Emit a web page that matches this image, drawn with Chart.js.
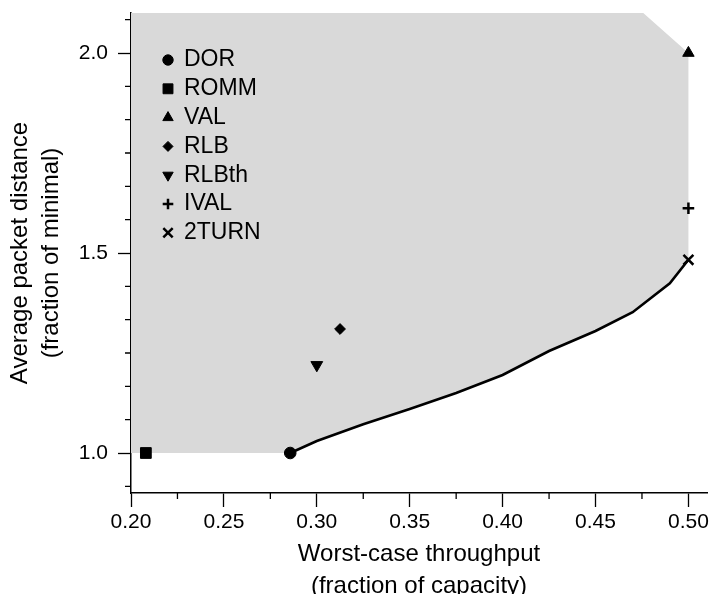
<!DOCTYPE html>
<html lang="en">
<head>
  <meta charset="UTF-8">
  <title>Worst-case throughput vs average packet distance</title>
  <script src="https://cdn.jsdelivr.net/npm/chart.js"></script>
  <style>
    body {
      margin: 0;
      background-color: #fff;
      overflow: hidden;
    }
  </style>
</head>
<body>

  <canvas id="grafico" width="709" height="594"></canvas>

  <script>
    // algorithms (single points)
    const seriesNames = ['DOR', 'ROMM', 'VAL', 'RLB', 'RLBth', 'IVAL', '2TURN'];
    const seriesX = [0.2857, 0.208, 0.5, 0.3125, 0.30, 0.5, 0.5];
    const seriesY = [1.0, 1.0, 2.0, 1.31, 1.22, 1.612, 1.483];

    // lower bound curve
    const curveX = [0.2857, 0.30, 0.325, 0.35, 0.375, 0.40, 0.425, 0.45, 0.47, 0.49, 0.50];
    const curveY = [1.0, 1.03, 1.072, 1.11, 1.15, 1.195, 1.255, 1.305, 1.352, 1.424, 1.483];

    // shaded region, corners outside the curve
    const regionX = [0.20, 0.50, 0.4757, 0.20];
    const regionY = [1.0, 2.0, 2.1, 2.1];

    const xMajor = [0.20, 0.25, 0.30, 0.35, 0.40, 0.45, 0.50];
    const xMinor = [0.225, 0.275, 0.325, 0.375, 0.425, 0.475];
    const yMajor = [1.0, 1.5, 2.0];
    const yMinor = [0.9167, 1.0833, 1.1667, 1.25, 1.3333, 1.4167, 1.5833, 1.6667, 1.75, 1.8333, 1.9167, 2.0833];

    const FONT = "'Liberation Sans', Arial, Helvetica, sans-serif";

    const markers = [
      { pointStyle: 'circle', radius: 5.8, rotation: 0, borderWidth: 1, legendRadius: 5.2 },
      { pointStyle: 'rect', radius: 7.6, rotation: 0, borderWidth: 1, legendRadius: 7.0 },
      { pointStyle: 'triangle', radius: 6.6, rotation: 0, borderWidth: 1, legendRadius: 6.0 },
      { pointStyle: 'rectRot', radius: 5.4, rotation: 0, borderWidth: 1, legendRadius: 5.0 },
      { pointStyle: 'triangle', radius: 6.8, rotation: 180, borderWidth: 1, legendRadius: 6.0 },
      { pointStyle: 'cross', radius: 5.8, rotation: 0, borderWidth: 2.5, legendRadius: 5.3 },
      { pointStyle: 'crossRot', radius: 7.0, rotation: 0, borderWidth: 2.5, legendRadius: 6.6 }
    ];

    const regionPoints = [{ x: regionX[0], y: regionY[0] }]
      .concat(curveX.map((x, i) => ({ x: x, y: curveY[i] })))
      .concat(regionX.slice(1).map((x, i) => ({ x: x, y: regionY[i + 1] })));

    const datasets = [
      {
        label: 'region',
        data: regionPoints,
        backgroundColor: '#d9d9d9',
        borderColor: 'rgba(0,0,0,0)',
        borderWidth: 0,
        fill: 'shape',
        pointRadius: 0,
        tension: 0,
        order: 10
      },
      {
        label: 'bound',
        data: curveX.map((x, i) => ({ x: x, y: curveY[i] })),
        borderColor: '#000',
        borderWidth: 2.6,
        fill: false,
        pointRadius: 0,
        tension: 0,
        order: 5
      }
    ];

    seriesNames.forEach((name, i) => {
      const m = markers[i];
      datasets.push({
        label: name,
        data: [{ x: seriesX[i], y: seriesY[i] }],
        showLine: false,
        pointStyle: m.pointStyle,
        pointRadius: m.radius,
        pointRotation: m.rotation,
        pointBorderWidth: m.borderWidth,
        pointBackgroundColor: '#000',
        pointBorderColor: '#000',
        isMarker: true,
        order: 1
      });
    });

    // minor ticks are shorter than the major ones
    const minorTicks = {
      id: 'minorTicks',
      afterDraw(chart) {
        const { ctx, scales: { x, y } } = chart;
        ctx.save();
        ctx.strokeStyle = '#000';
        ctx.lineWidth = 1.3;
        ctx.beginPath();
        xMinor.forEach(v => {
          const px = x.getPixelForValue(v);
          ctx.moveTo(px, x.top);
          ctx.lineTo(px, x.top + 6);
        });
        yMinor.forEach(v => {
          const py = y.getPixelForValue(v);
          ctx.moveTo(y.right, py);
          ctx.lineTo(y.right - 6, py);
        });
        ctx.stroke();
        ctx.restore();
      }
    };

    // legend drawn inside the plot, top left
    const innerLegend = {
      id: 'innerLegend',
      afterDatasetsDraw(chart) {
        const ctx = chart.ctx;
        const x0 = 168, y0 = 60, step = 28.8;
        ctx.save();
        ctx.font = '23px ' + FONT;
        ctx.textBaseline = 'middle';
        ctx.textAlign = 'left';
        let row = 0;
        chart.data.datasets.forEach((ds, i) => {
          if (!ds.isMarker) return;
          const m = markers[i - 2];
          const yy = y0 + row * step;
          ctx.fillStyle = '#000';
          ctx.strokeStyle = '#000';
          ctx.lineWidth = m.borderWidth;
          Chart.helpers.drawPoint(ctx, {
            pointStyle: m.pointStyle,
            rotation: m.rotation,
            radius: m.legendRadius,
            borderWidth: m.borderWidth
          }, x0, yy);
          ctx.fillStyle = '#000';
          ctx.fillText(ds.label, x0 + 16, yy);
          row++;
        });
        ctx.restore();
      }
    };

    new Chart(document.getElementById('grafico').getContext('2d'), {
      type: 'line',
      data: { datasets: datasets },
      plugins: [minorTicks, innerLegend],
      options: {
        responsive: false,
        animation: false,
        devicePixelRatio: 1,
        layout: { autoPadding: false, padding: { top: 13, right: 2, left: 0, bottom: 0 } },
        plugins: {
          legend: { display: false },
          tooltip: { enabled: false }
        },
        scales: {
          x: {
            type: 'linear',
            min: 0.2,
            max: 0.51,
            afterBuildTicks: s => { s.ticks = xMajor.map(v => ({ value: v })); },
            afterFit: s => { s.height = 101; s.paddingLeft = 0; s.paddingRight = 0; },
            ticks: {
              color: '#000',
              font: { family: FONT, size: 21 },
              padding: 3,
              maxRotation: 0,
              callback: v => v.toFixed(2)
            },
            grid: {
              drawOnChartArea: false,
              drawTicks: true,
              tickLength: 14,
              tickColor: '#000',
              tickWidth: 1.3
            },
            border: { display: true, color: '#000', width: 1.5 },
            title: {
              display: true,
              text: ['Worst-case throughput', '(fraction of capacity)'],
              color: '#000',
              font: { family: FONT, size: 24, lineHeight: 1.3 },
              padding: { top: 0, bottom: -7.5 }
            }
          },
          y: {
            type: 'linear',
            min: 0.9,
            max: 2.1,
            afterBuildTicks: s => { s.ticks = yMajor.map(v => ({ value: v })); },
            afterFit: s => { s.width = 131; s.paddingTop = 0; s.paddingBottom = 0; },
            ticks: {
              color: '#000',
              font: { family: FONT, size: 21 },
              padding: 10,
              callback: v => v.toFixed(1)
            },
            grid: {
              drawOnChartArea: false,
              drawTicks: true,
              tickLength: 13,
              tickColor: '#000',
              tickWidth: 1.3
            },
            border: { display: true, color: '#000', width: 1.5 },
            title: {
              display: true,
              text: ['Average packet distance', '(fraction of minimal)'],
              color: '#000',
              font: { family: FONT, size: 24, lineHeight: 1.3 },
              padding: { top: 5, bottom: 0 }
            }
          }
        }
      }
    });
  </script>

</body>
</html>
